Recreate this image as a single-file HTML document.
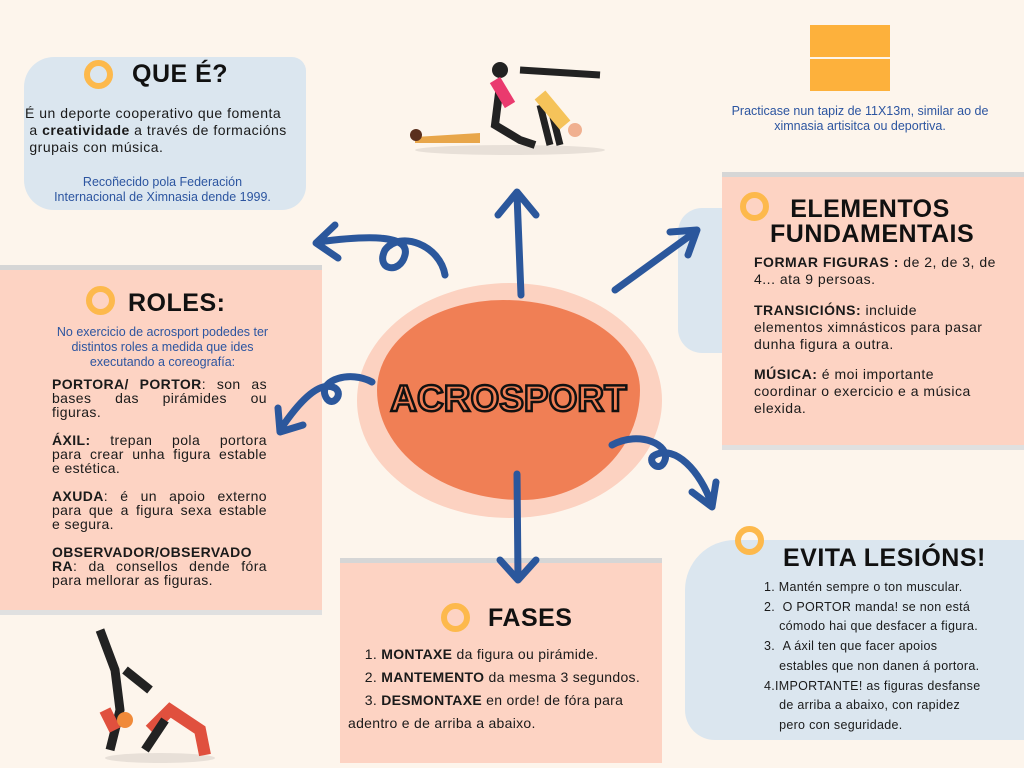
<!DOCTYPE html>
<html><head><meta charset="utf-8"><style>
body{margin:0;width:1024px;height:768px;background:#fdf5ec;position:relative;overflow:hidden;font-family:"Liberation Sans",sans-serif;}
.a{position:absolute;}
.t{position:absolute;font-size:14px;color:#1a1a1a;line-height:17px;letter-spacing:0.5px;white-space:nowrap;}
.r{position:absolute;width:215px;font-size:14px;color:#1a1a1a;line-height:14px;letter-spacing:0.4px;}
.r span{display:block;height:14px;text-align:justify;text-align-last:justify;white-space:nowrap;}
.r span.l{text-align-last:left;}
.h{position:absolute;font-weight:bold;font-size:25px;color:#111;letter-spacing:0.5px;}
.ring{position:absolute;width:17px;height:17px;border:6px solid #fdb94c;border-radius:50%;}
.blue{color:#2c55a0;font-size:12.5px;line-height:15px;text-align:center;white-space:nowrap;}
b{font-weight:bold;}
</style></head><body>
<div class="a" style="left:24px;top:57px;width:282px;height:153px;background:#dbe6ef;border-radius:30px 14px 24px 30px;"></div>
<div class="a" style="left:0;top:265px;width:322px;height:340px;background:#fdd3c3;border-top:5px solid #d6d6d6;border-bottom:5px solid #e0e0e0;"></div>
<div class="a" style="left:678px;top:208px;width:90px;height:145px;background:#dbe6ef;border-radius:24px;"></div>
<div class="a" style="left:722px;top:172px;width:302px;height:268px;background:#fdd3c3;border-top:5px solid #d6d6d6;border-bottom:5px solid #e0e0e0;"></div>
<div class="a" style="left:340px;top:558px;width:322px;height:200px;background:#fdd3c3;border-top:5px solid #d6d6d6;"></div>
<div class="a" style="left:685px;top:540px;width:345px;height:200px;background:#dbe6ef;border-radius:50px 0 0 30px;"></div>
<div class="a" style="left:810px;top:25px;width:80px;height:32px;background:#fdb13c;"></div>
<div class="a" style="left:810px;top:59px;width:80px;height:32px;background:#fdb13c;"></div>
<div class="a" style="left:357px;top:283px;width:305px;height:235px;background:#fcd2c1;border-radius:50%;"></div>
<div class="a" style="left:377px;top:300px;width:263px;height:200px;background:#f07f55;border-radius:48% 52% 45% 55%/45% 45% 55% 55%;"></div>
<div class="a" style="left:377px;top:378px;width:263px;text-align:center;font-size:37px;font-weight:bold;color:#f07f55;-webkit-text-stroke:2.5px #111;letter-spacing:0px;">ACROSPORT</div>
<svg class="a" style="left:0;top:0" width="1024" height="768" fill="none" stroke="#2b579c" stroke-width="7" stroke-linecap="round" stroke-linejoin="round">
<path d="M521 295 L517 195 M498 215 L517 192 L536 215"/>
<path d="M615 290 L695 232 M670 232 L697 230 L688 255"/>
<path d="M445 275 C440 245 400 230 385 250 C375 270 400 275 405 255 C410 235 370 235 318 242 M335 225 L316 243 L338 258"/>
<path d="M372 382 C350 370 320 380 325 395 C330 410 345 395 335 388 C320 380 300 400 280 430 M278 408 L280 432 L303 425"/>
<path d="M612 445 C640 430 670 445 665 460 C660 475 645 460 655 455 C675 445 700 470 712 505 M692 492 L712 507 L716 482"/>
<path d="M517 474 L518 578 M500 560 L518 580 L536 560"/>
</svg>
<div class="ring" style="left:84px;top:60px"></div>
<div class="h" style="left:132px;top:60px;">QUE É?</div>
<div class="t" style="left:25px;top:105px;">É un deporte cooperativo que fomenta<br>&nbsp;a <b>creatividade</b> a través de formacións<br>&nbsp;grupais con música.</div>
<div class="a blue" style="left:25px;top:175px;width:275px;">Recoñecido pola Federación<br>Internacional de Ximnasia dende 1999.</div>
<div class="a blue" style="left:715px;top:104px;width:290px;">Practicase nun tapiz de 11X13m, similar ao de<br>ximnasia artisitca ou deportiva.</div>
<div class="ring" style="left:86px;top:286px"></div>
<div class="h" style="left:128px;top:289px;">ROLES:</div>
<div class="a blue" style="left:30px;top:325px;width:265px;">No exercicio de acrosport podedes ter<br>distintos roles a medida que ides<br>executando a coreografía:</div>
<div class="r" style="left:52px;top:377px;"><span><b>PORTORA/ PORTOR</b>: son as</span><span>bases das pirámides ou</span><span class="l">figuras.</span></div>
<div class="r" style="left:52px;top:433px;"><span><b>ÁXIL:</b> trepan pola portora</span><span>para crear unha figura estable</span><span class="l">e estética.</span></div>
<div class="r" style="left:52px;top:489px;"><span><b>AXUDA</b>: é un apoio externo</span><span>para que a figura sexa estable</span><span class="l">e segura.</span></div>
<div class="r" style="left:52px;top:545px;"><span><b>OBSERVADOR/OBSERVADO</b></span><span><b>RA</b>: da consellos dende fóra</span><span class="l">para mellorar as figuras.</span></div>
<div class="ring" style="left:740px;top:192px"></div>
<div class="h" style="left:770px;top:197px;width:200px;text-align:center;line-height:25px;">ELEMENTOS<br>FUNDAMENTAIS</div>
<div class="t" style="left:754px;top:254px;"><b>FORMAR FIGURAS :</b> de 2, de 3, de<br>4... ata 9 persoas.</div>
<div class="t" style="left:754px;top:302px;"><b>TRANSICIÓNS:</b> incluide<br>elementos ximnásticos para pasar<br>dunha figura a outra.</div>
<div class="t" style="left:754px;top:366px;"><b>MÚSICA:</b> é moi importante<br>coordinar o exercicio e a música<br>elexida.</div>
<div class="ring" style="left:441px;top:603px"></div>
<div class="h" style="left:488px;top:604px;">FASES</div>
<div class="t" style="left:348px;top:643px;line-height:23px;letter-spacing:0.3px;">&nbsp;&nbsp;&nbsp;&nbsp;1. <b>MONTAXE</b> da figura ou pirámide.<br>&nbsp;&nbsp;&nbsp;&nbsp;2. <b>MANTEMENTO</b> da mesma 3 segundos.<br>&nbsp;&nbsp;&nbsp;&nbsp;3. <b>DESMONTAXE</b> en orde! de fóra para<br>adentro e de arriba a abaixo.</div>
<div class="ring" style="left:735px;top:526px"></div>
<div class="h" style="left:783px;top:544px;">EVITA LESIÓNS!</div>
<div class="t" style="left:764px;top:578px;font-size:12.5px;line-height:19.7px;letter-spacing:0.3px;">1. Mantén sempre o ton muscular.<br>2. &nbsp;O PORTOR manda! se non está<br>&nbsp;&nbsp;&nbsp;&nbsp;cómodo hai que desfacer a figura.<br>3. &nbsp;A áxil ten que facer apoios<br>&nbsp;&nbsp;&nbsp;&nbsp;estables que non danen á portora.<br>4.IMPORTANTE! as figuras desfanse<br>&nbsp;&nbsp;&nbsp;&nbsp;de arriba a abaixo, con rapidez<br>&nbsp;&nbsp;&nbsp;&nbsp;pero con seguridade.</div>
<svg class="a" style="left:400px;top:45px" width="220" height="115">
<ellipse cx="110" cy="105" rx="95" ry="5" fill="#e8e0d8"/>
<path d="M15 92 L80 88 L80 98 L15 98Z" fill="#e8a64a"/>
<circle cx="16" cy="90" r="6" fill="#5a2f1e"/>
<path d="M100 40 L95 80 L120 95 L135 100" stroke="#222" stroke-width="8" fill="none"/>
<circle cx="100" cy="25" r="8" fill="#222"/>
<path d="M95 35 L110 60" stroke="#ea3a6e" stroke-width="12"/>
<path d="M120 25 L200 30 M140 60 L150 100 M150 60 L160 100" stroke="#222" stroke-width="7"/>
<path d="M140 50 L165 80" stroke="#f5c35a" stroke-width="14"/>
<circle cx="175" cy="85" r="7" fill="#f0b090"/>
</svg>
<svg class="a" style="left:90px;top:620px" width="130" height="145">
<ellipse cx="70" cy="138" rx="55" ry="5" fill="#e8e0d8"/>
<path d="M10 10 L25 50 L30 90 L20 130" stroke="#222" stroke-width="9" fill="none"/>
<path d="M35 50 L60 70" stroke="#222" stroke-width="9"/>
<path d="M15 90 L25 110" stroke="#e0503e" stroke-width="12"/>
<circle cx="35" cy="100" r="8" fill="#f08a3a"/>
<path d="M60 110 L80 90 L110 110 L115 135" stroke="#e0503e" stroke-width="12" fill="none"/>
<path d="M55 130 L75 100" stroke="#222" stroke-width="9"/>
</svg>
</body></html>
